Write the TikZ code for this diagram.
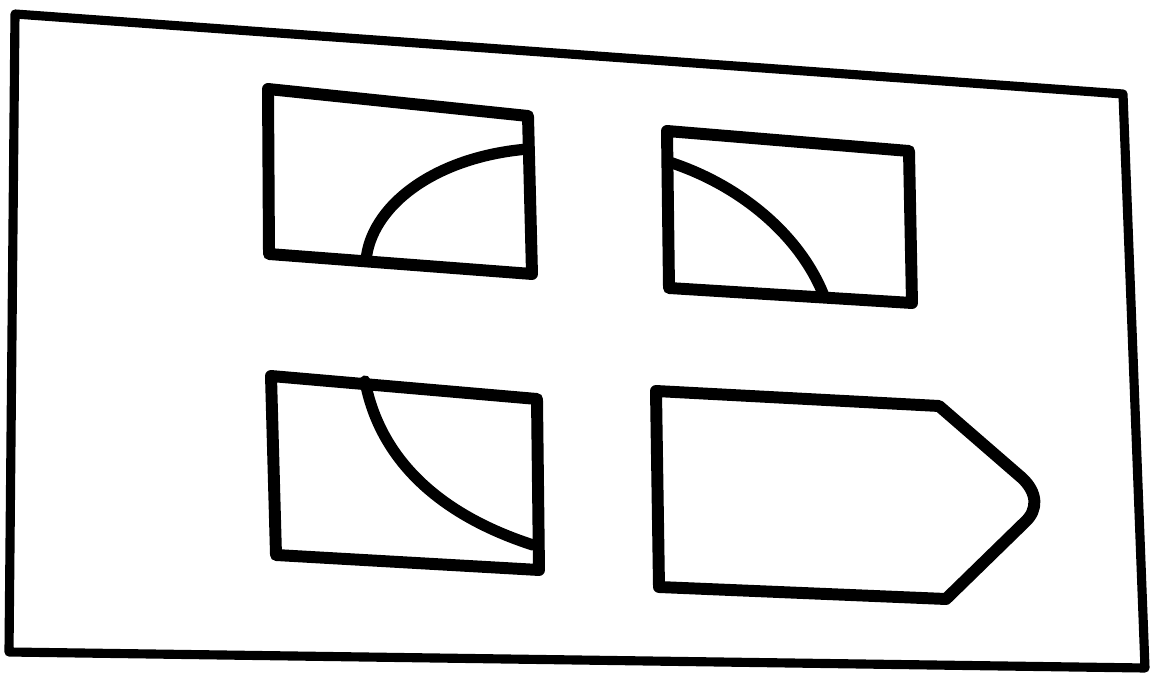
\documentclass[tikz,border=0pt]{standalone}
\usepackage{tikz}
\usetikzlibrary{calc}

\tikzset{
    outline/.style={line width=6.5pt, line join=round, line cap=round},
    pane/.style={line width=8.5pt, line join=round, line cap=round},
    quarter/.style={line width=8pt, line cap=round}
}

\begin{document}
\begin{tikzpicture}[x=0.025cm, y=-0.025cm]
    \useasboundingbox (0,0) rectangle (1159,682);

    % Outer frame
    \draw[outline] (15,14) -- (1123,94) -- (1145,668) -- (9,652) -- cycle;

    % Top left pane with quarter arc at lower right
    \draw[pane] (268,89) -- (528,116) -- (532,274) -- (269,254) -- cycle;
    \draw[quarter] (366,261) .. controls (370,208) and (432,157) .. (528,149);

    % Top right pane with quarter arc at lower left
    \draw[pane] (667,131) -- (909,151) -- (912,303) -- (669,288) -- cycle;
    \draw[quarter] (669,162) .. controls (740,185) and (800,235) .. (824,296);

    % Bottom left pane with quarter arc at upper right
    \draw[pane] (271,376) -- (537,399) -- (539,570) -- (276,555) -- cycle;
    \draw[quarter] (365,381) .. controls (380,460) and (440,515) .. (533,545);

    % Bottom right pointed pane
    \draw[pane] (656,391) -- (939,406) -- (1022,478)
                .. controls (1038,493) and (1038,510) .. (1025,522)
                -- (946,599) -- (659,587) -- cycle;
\end{tikzpicture}
\end{document}
